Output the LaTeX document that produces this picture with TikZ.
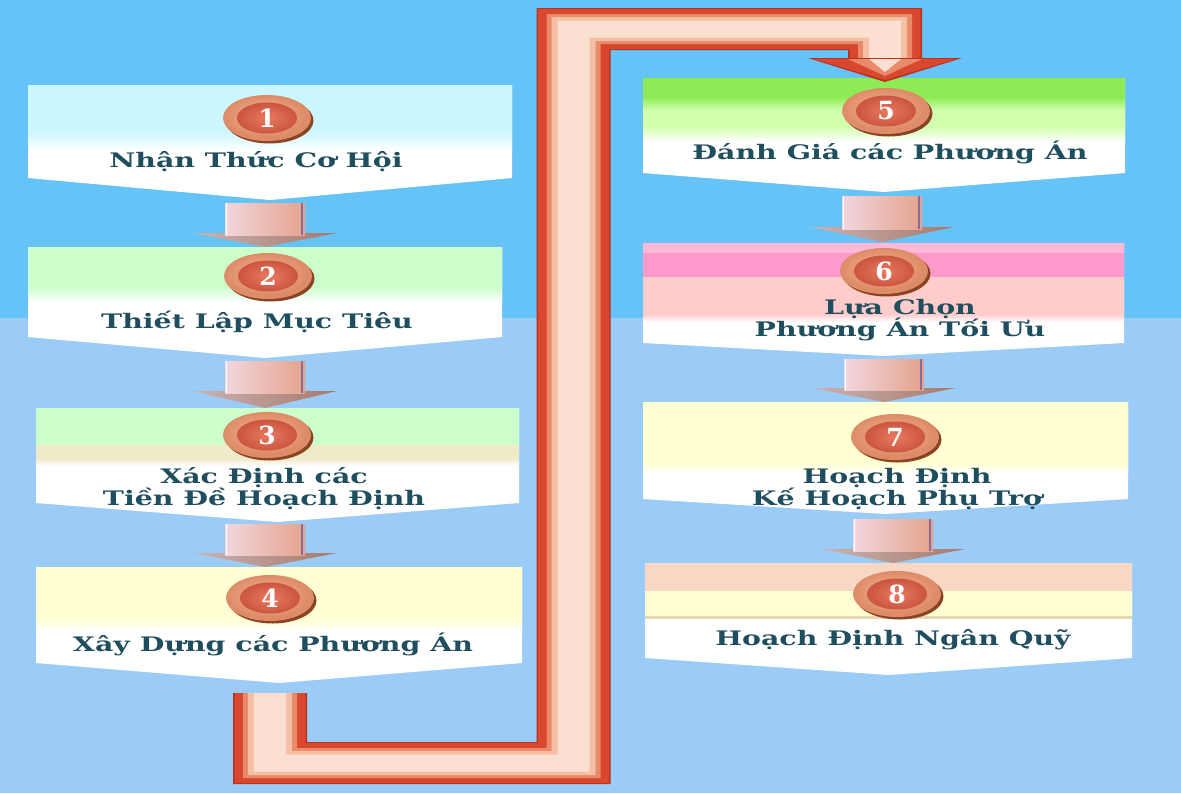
\documentclass[tikz,border=0pt]{standalone}
\usepackage{fontspec}
\newfontfamily\vnfont[FakeStretch=1.42]{DejaVu Serif}
\newfontfamily\numfont{DejaVu Serif}
\definecolor{bgtop}{HTML}{66C3F8}
\definecolor{bgbot}{HTML}{9BCCF7}
\definecolor{txtc}{HTML}{1F4E5E}
\definecolor{pipered}{HTML}{D9472F}
\definecolor{pipedark}{HTML}{B8301E}
\definecolor{pipesalmon}{HTML}{E98A6A}
\definecolor{pipepeach}{HTML}{F5BFA5}
\definecolor{pipepale}{HTML}{FBE0D2}
\definecolor{shaftl}{HTML}{F2D6DE}
\definecolor{shaftm}{HTML}{F8C3A5}
\definecolor{shaftr}{HTML}{E3A38C}
\definecolor{shaftline}{HTML}{8C6A9A}
\definecolor{headl}{HTML}{C9B4B4}
\definecolor{headr}{HTML}{A8786A}
\definecolor{coinshadow}{HTML}{8A4424}
\definecolor{coinrim}{HTML}{DE8C68}
\definecolor{coinrimlight}{HTML}{F6B898}
\definecolor{coinin}{HTML}{E87A60}
\definecolor{coinout}{HTML}{CB5540}
\definecolor{cyanb}{HTML}{CDF7FE}
\definecolor{greenb}{HTML}{CCFFCC}
\definecolor{beigeb}{HTML}{EFEAC8}
\definecolor{yellowb}{HTML}{FFFFD2}
\definecolor{brightg}{HTML}{8EEB55}
\definecolor{lightg}{HTML}{D2FFAE}
\definecolor{pinks}{HTML}{FF99CC}
\definecolor{pinkl}{HTML}{FFCCCC}
\definecolor{pinkt}{HTML}{FFB8D6}
\definecolor{peachb}{HTML}{F8D8C4}
\definecolor{beigeline}{HTML}{E8D6AE}
\tikzset{
  lbl/.style={font=\vnfont\bfseries\fontsize{20}{23}\selectfont, text=txtc, inner sep=0pt, anchor=base},
  coinnum/.style={font=\numfont\bfseries\fontsize{25}{28}\selectfont, text=white, inner sep=0pt},
}
\newcommand{\stepbox}[6]{%
  \fill[white] (#1,#3) -- (#2,#3) -- (#2,#4) -- ({(#1+#2)/2},#5) -- (#1,#4) -- cycle;
  \begin{scope}
    \clip (#1,#3) -- (#2,#3) -- (#2,#4) -- ({(#1+#2)/2},#5) -- (#1,#4) -- cycle;
    #6
  \end{scope}}
\newcommand{\flowarrow}[4]{%
  \shade[left color=headl, right color=headr] ({#1-72},{#3-2}) -- ({#1+72},{#3-2}) -- (#1,#4) -- cycle;
  \shade[left color=shaftl, middle color=shaftm, right color=shaftr] ({#1-40},#2) rectangle ({#1+40},#3);
  \draw[shaftline, line width=1.3] ({#1+37},#2) -- ({#1+37},#3);
  \draw[white, line width=1] ({#1-39},#2) -- ({#1-39},#3);}
\newcommand{\pipelayer}[3]{%
  \fill[#3] ({270-#1},693) -- ({270-#1},{763+#2}) -- ({573.5+#1},{763+#2}) -- ({573.5+#1},{29+#2})
    -- ({885-#1},{29+#2}) -- ({885-#1},60) -- ({885+#1},60) -- ({885+#1},{29-#2})
    -- ({573.5-#1},{29-#2}) -- ({573.5-#1},{763-#2}) -- ({270+#1},{763-#2}) -- ({270+#1},693) -- cycle;}
\newcommand{\coin}[4]{%
  \fill[coinshadow] ({#2+2.5},{#3+2.5}) ellipse [x radius=44, y radius=23];
  \fill[coinrim] (#2,#3) ellipse [x radius=44, y radius=23];
  \shade[inner color=coinrimlight, outer color=coinrim] ({#2-2},{#3-2}) ellipse [x radius=41, y radius=20.5];
  \shade[inner color=coinin, outer color=coinout] (#2,#3) ellipse [x radius=30, y radius=15.5];
  \node[coinnum] (#1) at (#2,#3) {#4};}
\begin{document}
\begin{tikzpicture}[x=1pt, y=-1pt]
\useasboundingbox (0,0) rectangle (1181,793);
% background
\fill[bgtop] (0,0) rectangle (1181,318);
\fill[bgbot] (0,318) rectangle (1181,793);
% small arrows (behind boxes)
\flowarrow{265}{203}{235}{247}
\flowarrow{265}{361}{393}{408}
\flowarrow{265}{524}{555}{567}
\flowarrow{882}{196}{229}{242}
\flowarrow{884}{359}{390}{402}
\flowarrow{893}{519}{551}{563}
% left column boxes
\stepbox{28}{512}{85}{178}{200}{%
  \fill[cyanb] (0,85) rectangle (1181,132);
  \shade[top color=cyanb, bottom color=white] (0,132) rectangle (1181,150);}
\stepbox{28}{502}{247}{337}{358}{%
  \fill[greenb] (0,247) rectangle (1181,287);
  \shade[top color=greenb, bottom color=white] (0,287) rectangle (1181,302);}
\stepbox{36}{519}{408}{503}{522}{%
  \fill[greenb] (0,408) rectangle (1181,445);
  \fill[beigeb] (0,445) rectangle (1181,458);
  \shade[top color=beigeb, bottom color=white] (0,458) rectangle (1181,466);}
\stepbox{36}{522}{567}{663}{683}{%
  \fill[yellowb] (0,567) rectangle (1181,618);
  \shade[top color=yellowb, bottom color=white] (0,618) rectangle (1181,632);}
% right column boxes
\stepbox{643}{1125}{78}{173}{192}{%
  \fill[brightg] (0,78) rectangle (1181,97);
  \shade[top color=brightg, bottom color=lightg] (0,97) rectangle (1181,110);
  \fill[lightg] (0,110) rectangle (1181,126);
  \shade[top color=lightg, bottom color=white] (0,126) rectangle (1181,142);}
\stepbox{643}{1124}{243}{343}{356}{%
  \fill[pinkt] (0,243) rectangle (1181,253);
  \fill[pinks] (0,253) rectangle (1181,277);
  \fill[pinkl] (0,277) rectangle (1181,314);
  \shade[top color=pinkl, bottom color=white] (0,314) rectangle (1181,322);}
\stepbox{643}{1128}{402}{499}{514}{%
  \fill[yellowb] (0,402) rectangle (1181,462);
  \shade[top color=yellowb, bottom color=white] (0,462) rectangle (1181,474);}
\stepbox{645}{1132}{563}{658}{675}{%
  \fill[peachb] (0,563) rectangle (1181,591);
  \fill[yellowb] (0,591) rectangle (1181,616);
  \fill[beigeline] (0,616) rectangle (1181,619);}
% coins
\coin{n1}{267}{118}{1}
\coin{n2}{268}{276}{2}
\coin{n3}{267}{435}{3}
\coin{n4}{270}{598}{4}
\coin{n5}{886}{111}{5}
\coin{n6}{884}{271}{6}
\coin{n7}{895}{437}{7}
\coin{n8}{897}{594}{8}
% labels
\node[lbl] (t1) at (256,167) {Nhận Thức Cơ Hội};
\node[lbl] (t2) at (257,328) {Thiết Lập Mục Tiêu};
\node[lbl] (t3a) at (264,483) {Xác Định các};
\node[lbl] (t3b) at (264,505) {Tiền Đề Hoạch Định};
\node[lbl] (t4) at (273,651) {Xây Dựng các Phương Án};
\node[lbl] (t5) at (890,159) {Đánh Giá các Phương Án};
\node[lbl] (t6a) at (900,314) {Lựa Chọn};
\node[lbl] (t6b) at (900,336) {Phương Án Tối Ưu};
\node[lbl] (t7a) at (897,483) {Hoạch Định};
\node[lbl] (t7b) at (897,505) {Kế Hoạch Phụ Trợ};
\node[lbl] (t8) at (893,645) {Hoạch Định Ngân Quỹ};
% big pipe connector from box 4 to box 5
\coordinate (pstart) at (270,693);
\coordinate (pend) at (885,82);
\pipelayer{37}{21}{pipedark}
\pipelayer{35.5}{20}{pipered}
\pipelayer{27}{15}{pipesalmon}
\pipelayer{22}{12}{pipepeach}
\pipelayer{16}{8.5}{pipepale}
\fill[pipedark] (808,58) -- (962,58) -- (pend) -- cycle;
\fill[pipered] (814,59) -- (956,59) -- (885,80) -- cycle;
\fill[pipesalmon] (848,59) -- (922,59) -- (885,76) -- cycle;
\fill[pipepale] (869,59) -- (901,59) -- (885,72) -- cycle;
\end{tikzpicture}
\end{document}
